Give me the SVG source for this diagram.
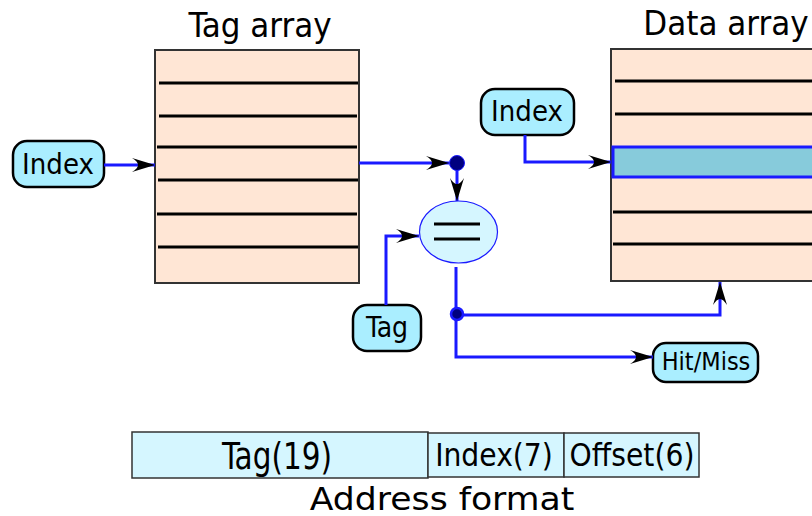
<svg xmlns="http://www.w3.org/2000/svg" width="812" height="516" viewBox="0 0 812 516">
<style>
text{font-family:"DejaVu Sans Condensed","DejaVu Sans","Liberation Sans",sans-serif;font-stretch:condensed;fill:#000}
text.wide{font-family:"DejaVu Sans","Liberation Sans",sans-serif;font-stretch:normal}
.arr{fill:#ffe6d5;stroke:#333;stroke-width:2}
.row{stroke:#000;stroke-width:3}
.node{fill:#aaeeff;stroke:#000;stroke-width:2.5}
.conn{fill:none;stroke:#1a1aff;stroke-width:3}
.addr{fill:#d5f6ff;stroke:#333;stroke-width:1.5}
</style>
<defs>
<marker id="ah" markerUnits="userSpaceOnUse" markerWidth="26" markerHeight="16" viewBox="-24 -8 26 16" refX="0" refY="0" orient="auto" overflow="visible">
<path d="M0,0 L-23,-7 C-15,-2 -15,2 -23,7 Z" fill="#000"/>
</marker>
</defs>
<text x="260" y="37" font-size="34.5" text-anchor="middle">Tag array</text>
<text x="726" y="35" font-size="34.5" text-anchor="middle">Data array</text>
<g id="tag-array">
<rect class="arr" x="155" y="50" width="204" height="233"/>
<line class="row" x1="159" y1="83" x2="358" y2="83"/>
<line class="row" x1="159" y1="116" x2="357" y2="116"/>
<line class="row" x1="157" y1="147" x2="357" y2="147"/>
<line class="row" x1="158" y1="180" x2="358" y2="180"/>
<line class="row" x1="157" y1="214" x2="357" y2="214"/>
<line class="row" x1="158" y1="247" x2="358" y2="247"/>
</g>
<g id="data-array">
<rect class="arr" x="611" y="49" width="230" height="232"/>
<line class="row" x1="615" y1="81" x2="812" y2="81"/>
<line class="row" x1="615" y1="114" x2="812" y2="114"/>
<line class="row" x1="613" y1="212" x2="812" y2="212"/>
<line class="row" x1="613" y1="244" x2="812" y2="244"/>
<rect x="613" y="147" width="220" height="30" fill="#87cbdb" stroke="#1a1aff" stroke-width="3"/>
</g>
<g id="index-left">
<rect class="node" x="13" y="141" width="91" height="46" rx="14"/>
<text x="58" y="174" font-size="29" text-anchor="middle">Index</text>
</g>
<g id="index-top">
<rect class="node" x="481" y="89" width="93" height="46" rx="14"/>
<text x="527" y="121" font-size="29" text-anchor="middle">Index</text>
</g>
<g id="tag">
<rect class="node" x="353" y="305" width="68" height="46" rx="14"/>
<text x="387" y="337" font-size="28" text-anchor="middle">Tag</text>
</g>
<g id="hitmiss">
<rect class="node" x="653" y="343" width="105" height="39" rx="13"/>
<text x="706" y="370" font-size="25" text-anchor="middle">Hit/Miss</text>
</g>
<g id="comparator">
<ellipse cx="458.5" cy="232" rx="39" ry="31" fill="#d5f6ff" stroke="#1a1aff" stroke-width="1.2"/>
<line x1="434" y1="224" x2="480" y2="224" stroke="#000" stroke-width="3"/>
<line x1="434" y1="239" x2="480" y2="239" stroke="#000" stroke-width="3"/>
</g>
<g id="connectors">
<path class="conn" d="M104,165 H155" marker-end="url(#ah)"/>
<path class="conn" d="M359,163 H449" marker-end="url(#ah)"/>
<path class="conn" d="M457,170 V201" marker-end="url(#ah)"/>
<path class="conn" d="M386,305 V236 H419" marker-end="url(#ah)"/>
<path class="conn" d="M456,267 V357 H653" marker-end="url(#ah)"/>
<path class="conn" d="M456,315 H720 V282" marker-end="url(#ah)"/>
<path class="conn" d="M525,135 V162 H611" marker-end="url(#ah)"/>
<circle cx="457" cy="163" r="7.5" fill="#000080" stroke="#1a1aff" stroke-width="1"/>
<circle cx="457" cy="314" r="6" fill="#000080" stroke="#1a1aff" stroke-width="2.5"/>
</g>
<g id="address">
<rect class="addr" x="132" y="432" width="296" height="46"/>
<rect class="addr" x="428" y="433" width="136" height="44"/>
<rect class="addr" x="564" y="433" width="135" height="44"/>
<text transform="translate(277,469) scale(0.98,1.1)" font-size="33.5" text-anchor="middle">Tag(19)</text>
<text x="494" y="466" font-size="31.4" text-anchor="middle">Index(7)</text>
<text x="632" y="466" font-size="31.4" text-anchor="middle">Offset(6)</text>
<text class="wide" transform="translate(442,510) scale(1.1,1)" font-size="31.5" text-anchor="middle">Address format</text>
</g>
</svg>
